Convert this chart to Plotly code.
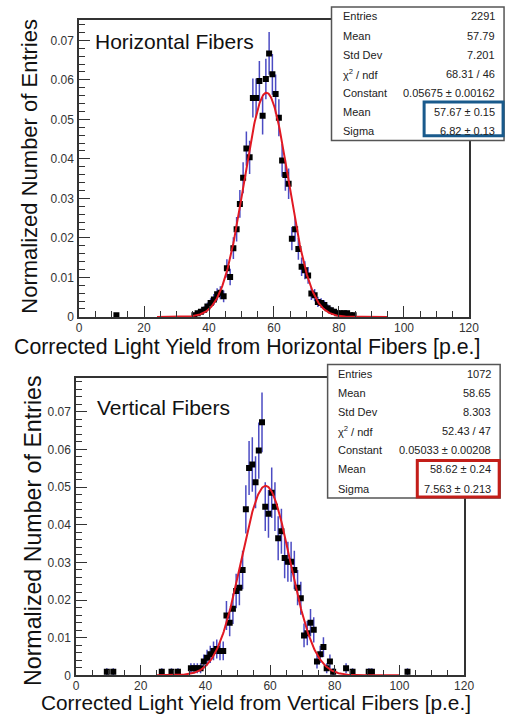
import numpy as np
import plotly.graph_objects as go

W, H = 516, 719
FONT = "Liberation Sans, Arial, sans-serif"

# ---------------- data ----------------
x_ticks = [0, 20, 40, 60, 80, 100, 120]

h_centers = [11.5, 35.5, 36.5, 37.5, 38.5, 39.5, 40.5, 41.5, 42.5, 43.5, 44.5,
             45.5, 46.5, 47.5, 48.5, 49.5, 50.5, 51.5, 52.5, 53.5, 54.5, 55.5,
             56.5, 57.5, 58.5, 59.5, 60.5, 61.5, 62.5, 63.5, 64.5, 65.5, 66.5,
             67.5, 68.5, 69.5, 70.5, 71.5, 72.5, 73.5, 74.5, 75.5, 76.5, 77.5,
             78.5, 79.5, 80.5, 81.5, 82.5, 83.5, 84.5]
h_values = [0.00044, 0.00044, 0.0009, 0.0013, 0.0018, 0.0026, 0.0035, 0.0044, 0.0057, 0.0061, 0.0052,
            0.0123, 0.0101, 0.0174, 0.0222, 0.0286, 0.0352, 0.0426, 0.0404, 0.0554, 0.0554, 0.0597,
            0.0509, 0.0602, 0.0667, 0.0614, 0.0564, 0.0504, 0.0396, 0.0359, 0.0337, 0.0198, 0.0222,
            0.0172, 0.0127, 0.0118, 0.0105, 0.0059, 0.0055, 0.0038, 0.0035, 0.0030, 0.0022, 0.0017,
            0.0013, 0.0009, 0.0009, 0.0009, 0.0009, 0.00044, 0.00044]

v_centers = [9.5, 11.5, 26.5, 29.5, 31.5, 35.5, 36.5, 37.5, 38.5, 39.5, 40.5, 41.5,
             42.5, 43.5, 44.5, 45.5, 46.5, 47.5, 48.5, 49.5, 50.5, 51.5, 52.5, 53.5,
             54.5, 55.5, 56.5, 57.5, 58.5, 59.5, 60.5, 61.5, 62.5, 63.5, 64.5, 65.5,
             66.5, 67.5, 68.5, 69.5, 70.5, 71.5, 72.5, 73.5, 74.5, 75.5, 76.5, 77.5,
             78.5, 79.5, 83.5, 85.5, 90.5, 91.5, 102.5]
v_values = [0.00093, 0.00093, 0.00093, 0.00093, 0.00093, 0.0019, 0.0019, 0.0019, 0.0019, 0.0037, 0.0047, 0.0056,
            0.0065, 0.0070, 0.0065, 0.0065, 0.0159, 0.0140, 0.0177, 0.0224, 0.0233, 0.0280, 0.0441, 0.0551,
            0.0560, 0.0513, 0.0597, 0.0672, 0.0448, 0.0429, 0.0485, 0.0448, 0.0364, 0.0383, 0.0312, 0.0302,
            0.0302, 0.0280, 0.0233, 0.0205, 0.0106, 0.0112, 0.0140, 0.0121, 0.0037, 0.0056, 0.0075, 0.0019,
            0.0037, 0.00093, 0.0019, 0.00093, 0.00093, 0.00093, 0.00093]

h_entries = 2291
v_entries = 1072

h_fit = dict(const=0.05675, mean=57.67, sigma=6.82, lo=24, hi=95)
v_fit = dict(const=0.05033, mean=58.62, sigma=7.563, lo=25, hi=100)

stat_labels = ["Entries", "Mean", "Std Dev", "χ<sup>2</sup> / ndf", "Constant", "Mean", "Sigma"]
h_stat_values = ["2291", "57.79", "7.201", "68.31 / 46", "0.05675 ± 0.00162", "57.67 ± 0.15", "6.82 ± 0.13"]
v_stat_values = ["1072", "58.65", "8.303", "52.43 / 47", "0.05033 ± 0.00208", "58.62 ± 0.24", "7.563 ± 0.213"]

h_label = "Horizontal Fibers"
v_label = "Vertical Fibers"
h_xtitle = "Corrected Light Yield from Horizontal Fibers [p.e.]"
v_xtitle = "Corrected Light Yield from Vertical Fibers [p.e.]"
ytitle = "Normalized Number of Entries"

# ---------------- helpers ----------------
def px(x):
    return x / W

def py(y):
    return 1 - y / H

ERR_COLOR = "rgb(75,75,195)"

def add_hist(fig, centers, values, entries, fit, xa, ya):
    vals = np.array(values)
    err = np.sqrt(vals * entries) / entries  # Poisson uncertainty
    fig.add_trace(go.Scatter(
        x=centers, y=values, mode="markers", xaxis=xa, yaxis=ya,
        marker=dict(symbol="square", size=6, color="black"),
        error_y=dict(type="data", array=err, color=ERR_COLOR, thickness=1.5, width=0),
        showlegend=False, hoverinfo="skip"))
    xf = np.linspace(fit["lo"], fit["hi"], 400)
    yf = fit["const"] * np.exp(-0.5 * ((xf - fit["mean"]) / fit["sigma"]) ** 2)
    fig.add_trace(go.Scatter(
        x=xf, y=yf, mode="lines", xaxis=xa, yaxis=ya,
        line=dict(color="rgb(225,25,35)", width=2),
        showlegend=False, hoverinfo="skip"))

fig = go.Figure()
add_hist(fig, h_centers, h_values, h_entries, h_fit, "x", "y")
add_hist(fig, v_centers, v_values, v_entries, v_fit, "x2", "y2")

tickfont = dict(family=FONT, size=12, color="#333")

def xaxis(domain, anchor, standoff):
    return dict(domain=domain, anchor=anchor, range=[0, 120], tickvals=x_ticks,
                ticks="inside", ticklen=11, tickwidth=1, tickcolor="#333",
                minor=dict(dtick=5, tick0=0, ticks="inside", ticklen=6, tickcolor="#333"),
                showline=True, linecolor="#333", linewidth=1.5, mirror=True,
                showgrid=False, zeroline=False, tickfont=tickfont, ticklabelstandoff=standoff)

def yaxis(domain, anchor, top):
    return dict(domain=domain, anchor=anchor, range=[0, top], dtick=0.01, tick0=0,
                ticks="inside", ticklen=11, tickwidth=1, tickcolor="#333",
                minor=dict(dtick=0.002, tick0=0, ticks="inside", ticklen=6, tickcolor="#333"),
                showline=True, linecolor="#333", linewidth=1.5, mirror=True,
                showgrid=False, zeroline=False, tickfont=tickfont, ticklabelstandoff=1)

fig.update_layout(
    width=W, height=H, margin=dict(l=0, r=0, t=0, b=0),
    paper_bgcolor="white", plot_bgcolor="white",
    font=dict(family=FONT, color="#111"),
    xaxis=xaxis([px(78), px(478)], "y", -1),
    yaxis=yaxis([py(320), py(20)], "x", 0.0752),
    xaxis2=xaxis([px(75), px(473)], "y2", -2),
    yaxis2=yaxis([py(682), py(382)], "x2", 0.0789),
)

shapes = []
annotations = []

def stat_box(x0, x1, y0, y1, label_x, value_x, values, hl, hl_color):
    shapes.append(dict(type="rect", xref="paper", yref="paper", layer="above",
                       x0=px(x0), x1=px(x1), y0=py(y1), y1=py(y0),
                       fillcolor="white", line=dict(color="#555", width=1.5)))
    rh = (y1 - y0) / len(values)
    for i, (lab, val) in enumerate(zip(stat_labels, values)):
        yc = y0 + (i + 0.5) * rh
        annotations.append(dict(xref="paper", yref="paper", x=px(label_x), y=py(yc),
                                xanchor="left", yanchor="middle", showarrow=False,
                                text=lab, font=dict(family=FONT, size=11, color="#222")))
        annotations.append(dict(xref="paper", yref="paper", x=px(value_x), y=py(yc),
                                xanchor="right", yanchor="middle", showarrow=False,
                                text=val, font=dict(family=FONT, size=11, color="#222")))
    hx0, hx1, hy0, hy1 = hl
    shapes.append(dict(type="rect", xref="paper", yref="paper", layer="above",
                       x0=px(hx0), x1=px(hx1), y0=py(hy1), y1=py(hy0),
                       line=dict(color=hl_color, width=3)))

stat_box(337, 514, 7, 142, 347, 507, h_stat_values, (432, 513, 103, 137), "rgb(25,90,140)")
stat_box(333, 510, 368, 503, 342, 503, v_stat_values, (425, 509, 465, 502), "rgb(195,30,25)")

# panel labels
annotations.append(dict(xref="paper", yref="paper", x=px(92), y=py(42), xanchor="left",
                        yanchor="middle", showarrow=False, text=h_label,
                        font=dict(family=FONT, size=21, color="#111")))
annotations.append(dict(xref="paper", yref="paper", x=px(94), y=py(412), xanchor="left",
                        yanchor="middle", showarrow=False, text=v_label,
                        font=dict(family=FONT, size=21, color="#111")))
# axis titles
annotations.append(dict(xref="paper", yref="paper", x=px(490), y=py(350), xanchor="right",
                        yanchor="middle", showarrow=False, text=h_xtitle, borderpad=0,
                        font=dict(family=FONT, size=21.3, color="#111")))
annotations.append(dict(xref="paper", yref="paper", x=px(481), y=py(709), xanchor="right",
                        yanchor="middle", showarrow=False, text=v_xtitle, borderpad=0,
                        font=dict(family=FONT, size=20.8, color="#111")))
annotations.append(dict(xref="paper", yref="paper", x=px(27), y=py(168), xanchor="center",
                        yanchor="middle", showarrow=False, text=ytitle, textangle=-90,
                        font=dict(family=FONT, size=22, color="#111")))
annotations.append(dict(xref="paper", yref="paper", x=px(31), y=py(536), xanchor="center",
                        yanchor="middle", showarrow=False, text=ytitle, textangle=-90,
                        font=dict(family=FONT, size=23.2, color="#111")))

fig.update_layout(shapes=shapes, annotations=annotations)
fig.write_html("out.html")
